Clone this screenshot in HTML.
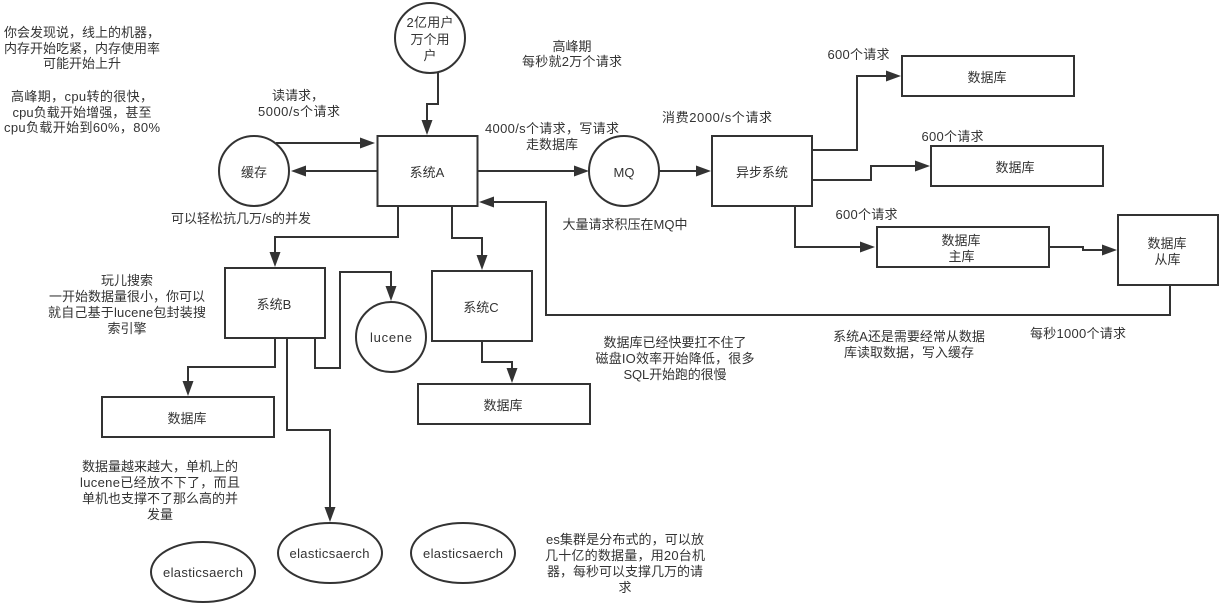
<!DOCTYPE html>
<html>
<head>
<meta charset="utf-8">
<style>
html,body{margin:0;padding:0;background:#fff;width:1225px;height:608px;overflow:hidden}
svg{display:block}
text{font-family:"Liberation Sans","Noto Sans CJK SC",sans-serif;font-size:13px;fill:#333;text-anchor:middle}
.s{fill:#fff;stroke:#333;stroke-width:2}
.c{fill:none;stroke:#333;stroke-width:2}
.a{fill:#333;stroke:none}
</style>
</head>
<body>
<svg width="1225" height="608" viewBox="0 0 1225 608" xmlns="http://www.w3.org/2000/svg">
<!-- connectors -->
<path class="c" d="M438 73V104H427V122"/><polygon class="a" points="427,135 421.500,120 432.500,120"/>
<path class="c" d="M276 143H362"/><polygon class="a" points="375,143 360,137.500 360,148.500"/>
<path class="c" d="M377 171H304"/><polygon class="a" points="291,171 306,165.500 306,176.500"/>
<path class="c" d="M477 171H576"/><polygon class="a" points="589,171 574,165.500 574,176.500"/>
<path class="c" d="M659 171H700"/><polygon class="a" points="711,171 696,165.500 696,176.500"/>
<path class="c" d="M812 150H857V76H888"/><polygon class="a" points="901,76 886,70.500 886,81.500"/>
<path class="c" d="M812 180H871V166H917"/><polygon class="a" points="930,166 915,160.500 915,171.500"/>
<path class="c" d="M795 206V247H862"/><polygon class="a" points="875,247 860,241.500 860,252.500"/>
<path class="c" d="M1048 247H1083V250H1104"/><polygon class="a" points="1117,250 1102,244.500 1102,255.500"/>
<path class="c" d="M1170 285V315H546V202H492"/><polygon class="a" points="479,202 494,196.500 494,207.500"/>
<path class="c" d="M398 206V237H275V254"/><polygon class="a" points="275,267 269.500,252 280.500,252"/>
<path class="c" d="M452 206V238H482V257"/><polygon class="a" points="482,270 476.500,255 487.500,255"/>
<path class="c" d="M315 338V368H340V272H391V288"/><polygon class="a" points="391,301 385.500,286 396.500,286"/>
<path class="c" d="M275 338V367H188V383"/><polygon class="a" points="188,396 182.500,381 193.500,381"/>
<path class="c" d="M287 338V430H330V509"/><polygon class="a" points="330,522 324.500,507 335.500,507"/>
<path class="c" d="M482 341V362H512V370"/><polygon class="a" points="512,383 506.500,368 517.500,368"/>
<!-- nodes -->
<circle class="s" cx="430" cy="38" r="35"/>
<circle class="s" cx="254" cy="171" r="35"/>
<circle class="s" cx="624" cy="171" r="35"/>
<circle class="s" cx="391" cy="337" r="35"/>
<rect class="s" x="377.500" y="136" width="100" height="70"/>
<rect class="s" x="712" y="136" width="100" height="70"/>
<rect class="s" x="225" y="268" width="100" height="70"/>
<rect class="s" x="432" y="271" width="100" height="70"/>
<rect class="s" x="902" y="56" width="172" height="40"/>
<rect class="s" x="931" y="146" width="172" height="40"/>
<rect class="s" x="877" y="227" width="172" height="40"/>
<rect class="s" x="1118" y="215" width="100" height="70"/>
<rect class="s" x="102" y="397" width="172" height="40"/>
<rect class="s" x="418" y="384" width="172" height="40"/>
<ellipse class="s" cx="330" cy="553" rx="52" ry="30"/>
<ellipse class="s" cx="463" cy="553" rx="52" ry="30"/>
<ellipse class="s" cx="203" cy="572" rx="52" ry="30"/>
<!-- node labels -->
<text x="430" y="27" textLength="47">2亿用户</text>
<text x="430" y="44">万个用</text>
<text x="430" y="60">户</text>
<text x="254" y="177">缓存</text>
<text x="427" y="177">系统A</text>
<text x="624" y="177">MQ</text>
<text x="762" y="177">异步系统</text>
<text x="987" y="82">数据库</text>
<text x="1015" y="172">数据库</text>
<text x="961" y="245">数据库</text>
<text x="961.500" y="261">主库</text>
<text x="1167" y="248">数据库</text>
<text x="1167.500" y="264">从库</text>
<text x="274" y="309">系统B</text>
<text x="481" y="312">系统C</text>
<text x="391" y="342" textLength="42">lucene</text>
<text x="187" y="423">数据库</text>
<text x="503" y="410">数据库</text>
<text x="329.500" y="558" textLength="80">elasticsaerch</text>
<text x="463" y="558" textLength="80">elasticsaerch</text>
<text x="203" y="577" textLength="80">elasticsaerch</text>
<!-- annotations -->
<text x="82" y="37">你会发现说，线上的机器，</text>
<text x="82" y="53">内存开始吃紧，内存使用率</text>
<text x="82" y="68">可能开始上升</text>
<text x="82" y="101" textLength="142">高峰期，cpu转的很快，</text>
<text x="82" y="117" textLength="139">cpu负载开始增强，甚至</text>
<text x="82" y="132" textLength="156">cpu负载开始到60%，80%</text>
<text x="298" y="100">读请求，</text>
<text x="299" y="116" textLength="82">5000/s个请求</text>
<text x="572" y="51">高峰期</text>
<text x="572" y="66" textLength="100">每秒就2万个请求</text>
<text x="552" y="133" textLength="134">4000/s个请求，写请求</text>
<text x="552" y="149">走数据库</text>
<text x="717" y="122" textLength="110">消费2000/s个请求</text>
<text x="241" y="223">可以轻松抗几万/s的并发</text>
<text x="625" y="229">大量请求积压在MQ中</text>
<text x="858.500" y="59" textLength="62">600个请求</text>
<text x="952.500" y="141" textLength="62">600个请求</text>
<text x="866.500" y="219" textLength="62">600个请求</text>
<text x="1078" y="338" textLength="96">每秒1000个请求</text>
<text x="909" y="341">系统A还是需要经常从数据</text>
<text x="909" y="357">库读取数据，写入缓存</text>
<text x="675" y="347">数据库已经快要扛不住了</text>
<text x="675" y="363" textLength="159">磁盘IO效率开始降低，很多</text>
<text x="675" y="379" textLength="103">SQL开始跑的很慢</text>
<text x="127" y="285">玩儿搜索</text>
<text x="127" y="301">一开始数据量很小，你可以</text>
<text x="127" y="317" textLength="158">就自己基于lucene包封装搜</text>
<text x="127" y="333">索引擎</text>
<text x="160" y="471">数据量越来越大，单机上的</text>
<text x="160" y="487" textLength="160">lucene已经放不下了，而且</text>
<text x="160" y="503">单机也支撑不了那么高的并</text>
<text x="160" y="519">发量</text>
<text x="625" y="544" textLength="158">es集群是分布式的，可以放</text>
<text x="625" y="560" textLength="160">几十亿的数据量，用20台机</text>
<text x="625" y="576">器，每秒可以支撑几万的请</text>
<text x="625" y="592">求</text>
</svg>
</body>
</html>
